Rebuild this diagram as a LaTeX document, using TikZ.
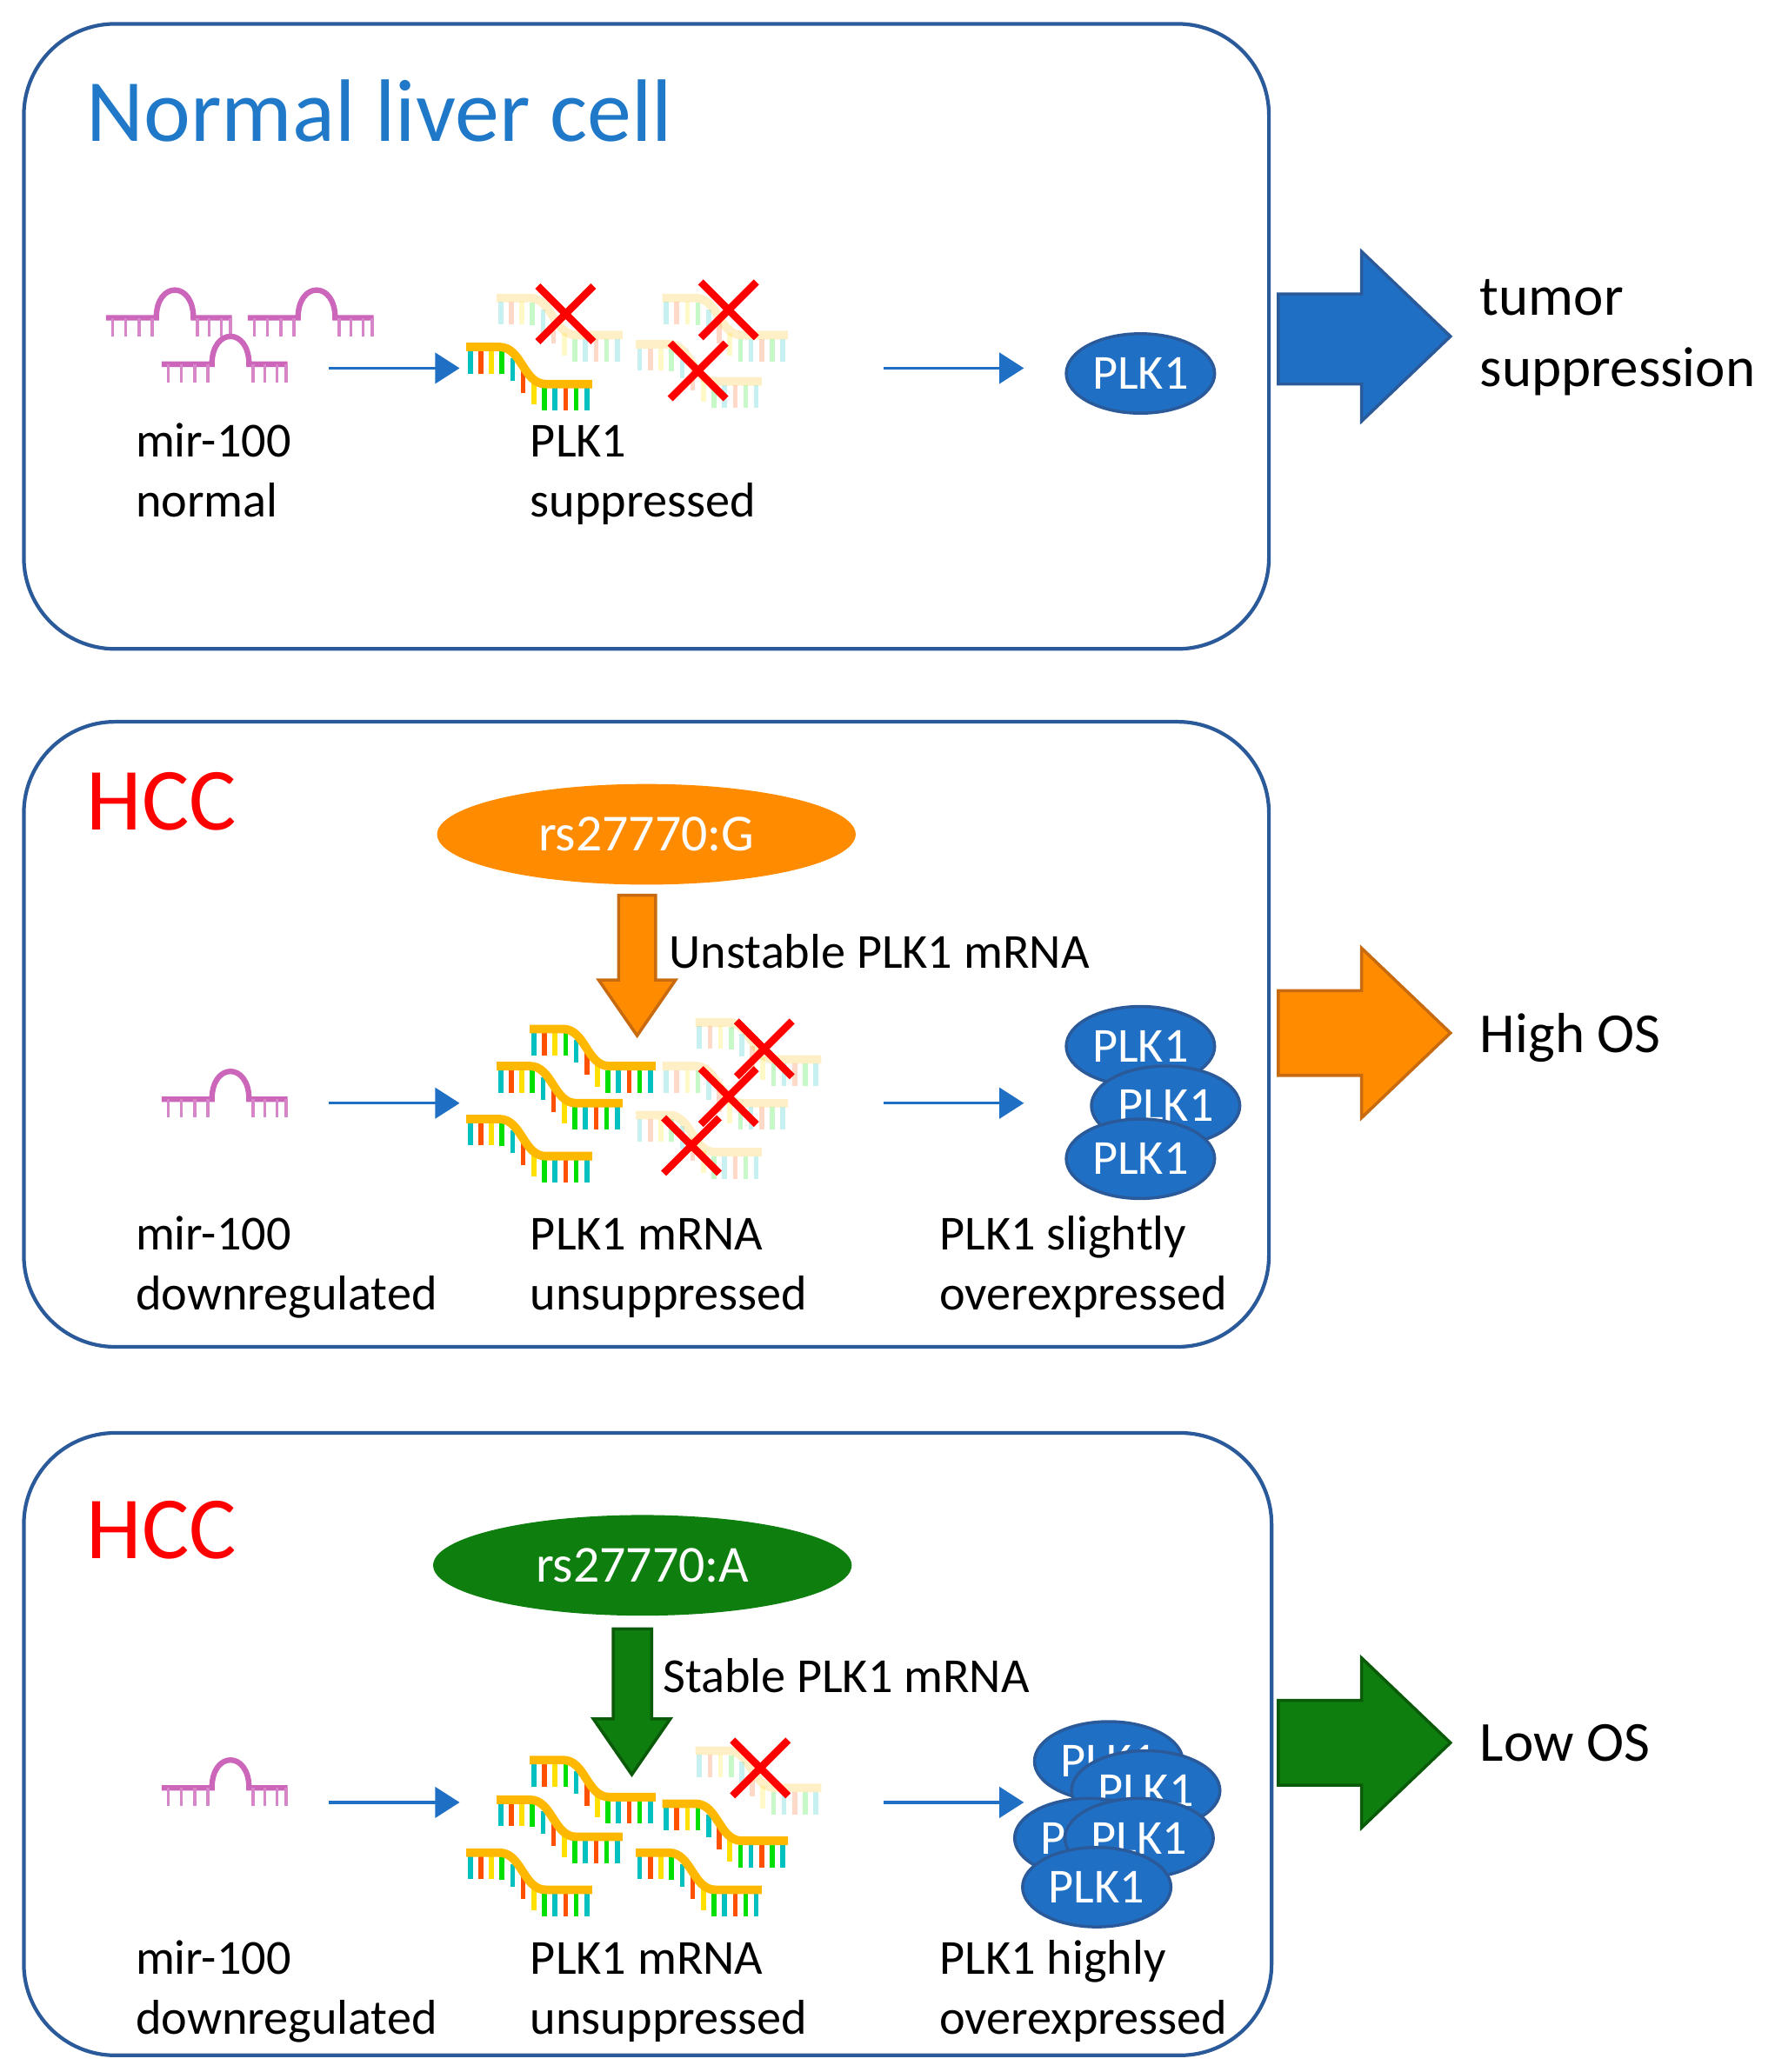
\documentclass[tikz,border=0pt]{standalone}
\usepackage{fontspec}
\setmainfont{Carlito}
\usetikzlibrary{arrows.meta,shapes.geometric}
\definecolor{pblue}{HTML}{1F6FC5}
\definecolor{dblue}{HTML}{2A5A9A}
\definecolor{tblue}{HTML}{1F78C8}
\definecolor{pink}{HTML}{CC66BB}
\definecolor{orng}{HTML}{FF8C00}
\definecolor{dorng}{HTML}{C86A10}
\definecolor{grn}{HTML}{0E7E0E}
\definecolor{dgrn}{HTML}{0A5A0A}
\definecolor{tc}{HTML}{00C0C0}
\definecolor{tr}{HTML}{FF5000}
\definecolor{ty}{HTML}{FFE000}
\definecolor{tg}{HTML}{00E000}
\definecolor{mo}{HTML}{FFB800}
\begin{document}
\begin{tikzpicture}[x=0.01523cm,y=-0.01523cm,
  panel/.style={draw=dblue,line width=1.2pt,rounded corners=1.05cm},
  lbl/.style={anchor=base west,font=\fontsize{16}{19}\selectfont,inner sep=0},
  big/.style={anchor=base west,font=\fontsize{29}{33}\selectfont,inner sep=0},
  sarrow/.style={draw=pblue,line width=1pt,-{Triangle[length=8pt,width=10pt]}},
  plk/.style={ellipse,draw=dblue,line width=1pt,fill=pblue,text=white,minimum width=112*0.01523cm,minimum height=60*0.01523cm,inner sep=0,font=\fontsize{16}{18}\selectfont},
  snp/.style={ellipse,text=white,minimum width=316*0.01523cm,minimum height=76*0.01523cm,inner sep=0,font=\fontsize{17}{20}\selectfont},
  mir/.pic={
    \draw[pink,line width=1.8pt] (0,0) -- (38,0) .. controls (38,-28) and (66,-28) .. (66,0) -- (95,0);
    \foreach \x in {5,15,25,35,69,78,87,94} \draw[pink!80,line width=1pt] (\x,0) -- (\x,14);
  },
  mrna/.pic={
    \foreach \x/\y/\c in {3/0/tc,11/0/tr,19/0/ty,27/0.3/tg,35/5.5/tc,43/14.6/tr,51/23.4/ty,59/28/tg,67/28/tc,75/28/tr,83/28/tg,91/28/tc}
      \draw[\c,line width=1.6pt] (\x,\y+3) -- (\x,\y+20);
    \draw[mo,line width=2.8pt] (0,0) -- (25,0) .. controls (42,0) and (43,28) .. (60,28) -- (95,28);
  },
  xx/.pic={\draw[red,line width=2.4pt] (-21,-21) -- (21,21) (-21,21) -- (21,-21);}
]
\useasboundingbox (0,0) rectangle (1340,1564.6);
% ---------- Panel 1
\node[panel,minimum width=940*0.01523cm,minimum height=472*0.01523cm] (p1) at (488,254) {};
\node[big,text=tblue] (t1) at (65,107) {Normal liver cell};
\pic at (80,240) {mir}; \pic at (187,240) {mir}; \pic at (122,275) {mir};
\coordinate (a1s) at (248,278); \coordinate (a1e) at (347,278);
\draw[sarrow] (a1s) -- (a1e);
\pic at (352,262) {mrna};
\begin{scope}[opacity=0.22]
\pic at (375,225) {mrna}; \pic at (500,225) {mrna}; \pic at (480,260) {mrna};
\end{scope}
\pic at (427,237) {xx}; \pic at (550,234) {xx}; \pic at (527,280) {xx};
\coordinate (b1s) at (667,278); \coordinate (b1e) at (773,278);
\draw[sarrow] (b1s) -- (b1e);
\node[plk] (k1) at (861,282) {PLK1};
\node[lbl] at (102,345) {mir-100};
\node[lbl] at (102,390) {normal};
\node[lbl] at (400,345) {PLK1};
\node[lbl] at (400,390) {suppressed};
\filldraw[fill=pblue,draw=dblue,line width=1pt] (965,222) -- (1028,222) -- (1028,190) -- (1095,254) -- (1028,318) -- (1028,290) -- (965,290) -- cycle;
\node[lbl,font=\fontsize{18.5}{21}\selectfont] at (1117,238) {tumor};
\node[lbl,font=\fontsize{18.5}{21}\selectfont] at (1117,292) {suppression};
% ---------- Panel 2
\node[panel,minimum width=940*0.01523cm,minimum height=472*0.01523cm] (p2) at (488,781) {};
\node[big,text=red] (t2) at (65,627) {HCC};
\node[snp,fill=orng] (s2) at (488,630) {rs27770:G};
\filldraw[fill=orng,draw=dorng,line width=1pt] (467,676) -- (495,676) -- (495,740) -- (510,740) -- (481,782) -- (452,740) -- (467,740) -- cycle;
\node[lbl] at (505,731) {Unstable PLK1 mRNA};
\pic at (122,830) {mir};
\coordinate (a2s) at (248,833); \coordinate (a2e) at (347,833);
\draw[sarrow] (a2s) -- (a2e);
\begin{scope}[opacity=0.22]
\pic at (525,772) {mrna}; \pic at (500,805) {mrna}; \pic at (480,842) {mrna};
\end{scope}
\pic at (400,777) {mrna}; \pic at (375,805) {mrna}; \pic at (352,845) {mrna};
\pic at (577,792) {xx}; \pic at (550,828) {xx}; \pic at (522,865) {xx};
\coordinate (b2s) at (667,833); \coordinate (b2e) at (773,833);
\draw[sarrow] (b2s) -- (b2e);
\node[plk] (k21) at (861,790) {PLK1};
\node[plk] (k22) at (880,835) {PLK1};
\node[plk] (k23) at (861,875) {PLK1};
\node[lbl] at (102,944) {mir-100};
\node[lbl] at (102,989) {downregulated};
\node[lbl] at (400,944) {PLK1 mRNA};
\node[lbl] at (400,989) {unsuppressed};
\node[lbl] at (709,944) {PLK1 slightly};
\node[lbl] at (709,989) {overexpressed};
\filldraw[fill=orng,draw=dorng,line width=1pt] (965,748) -- (1028,748) -- (1028,716) -- (1095,780) -- (1028,844) -- (1028,812) -- (965,812) -- cycle;
\node[lbl,font=\fontsize{18.5}{21}\selectfont] at (1117,795) {High OS};
% ---------- Panel 3
\node[panel,minimum width=942*0.01523cm,minimum height=470*0.01523cm] (p3) at (489,1317) {};
\node[big,text=red] (t3) at (65,1177) {HCC};
\node[snp,fill=grn] (s3) at (485,1182) {rs27770:A};
\filldraw[fill=grn,draw=dgrn,line width=1pt] (463,1230) -- (492,1230) -- (492,1298) -- (506,1298) -- (477,1340) -- (448,1298) -- (463,1298) -- cycle;
\node[lbl] at (500,1278) {Stable PLK1 mRNA};
\pic at (122,1350) {mir};
\coordinate (a3s) at (248,1361); \coordinate (a3e) at (347,1361);
\draw[sarrow] (a3s) -- (a3e);
\begin{scope}[opacity=0.22]
\pic at (525,1322) {mrna};
\end{scope}
\pic at (400,1329) {mrna}; \pic at (375,1359) {mrna}; \pic at (352,1399) {mrna};
\pic at (500,1362) {mrna}; \pic at (480,1399) {mrna};
\pic at (574,1335) {xx};
\coordinate (b3s) at (667,1361); \coordinate (b3e) at (773,1361);
\draw[sarrow] (b3s) -- (b3e);
\node[plk] (k31) at (837,1330) {PLK1};
\node[plk] (k32) at (865,1352) {PLK1};
\node[plk] (k33) at (822,1388) {PLK1};
\node[plk] (k34) at (860,1388) {PLK1};
\node[plk] (k35) at (828,1425) {PLK1};
\node[lbl] at (102,1491) {mir-100};
\node[lbl] at (102,1536) {downregulated};
\node[lbl] at (400,1491) {PLK1 mRNA};
\node[lbl] at (400,1536) {unsuppressed};
\node[lbl] at (709,1491) {PLK1 highly};
\node[lbl] at (709,1536) {overexpressed};
\filldraw[fill=grn,draw=dgrn,line width=1pt] (965,1284) -- (1028,1284) -- (1028,1252) -- (1095,1316) -- (1028,1380) -- (1028,1348) -- (965,1348) -- cycle;
\node[lbl,font=\fontsize{18.5}{21}\selectfont] at (1117,1330) {Low OS};
\end{tikzpicture}
\end{document}
